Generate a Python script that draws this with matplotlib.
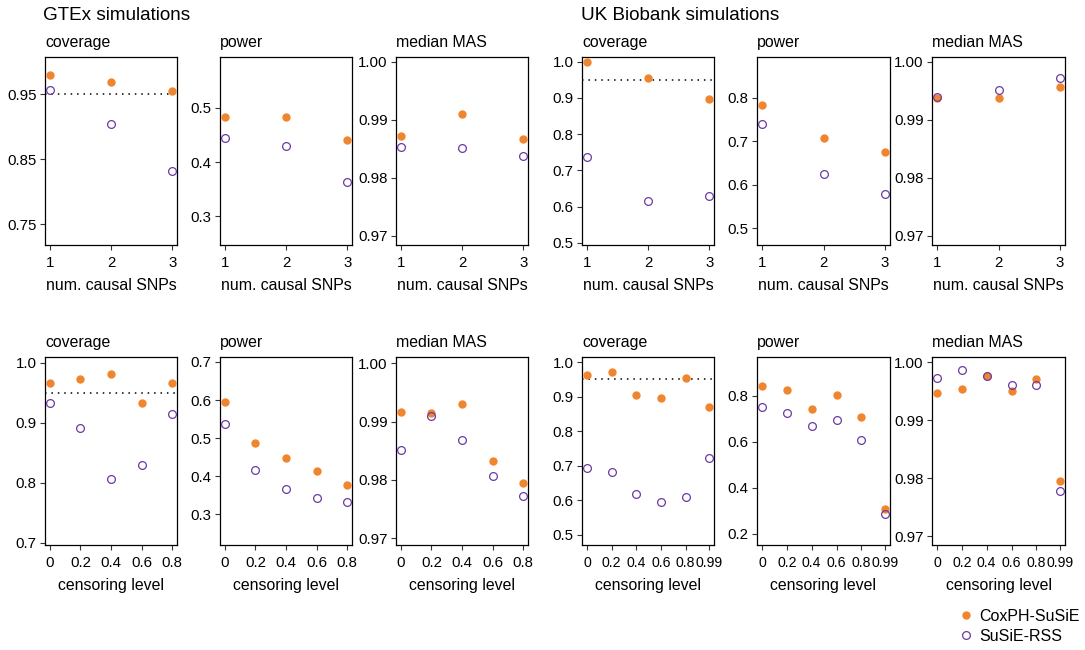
import numpy as np
import matplotlib.pyplot as plt
from matplotlib.lines import Line2D

plt.rcParams['font.family'] = ['Liberation Sans', 'DejaVu Sans']
plt.rcParams['font.size'] = 11

orange = '#F0852D'
purple = '#6A3BA5'

# x values
n_causal = [1, 2, 3]
cens_gtex = [0, 0.2, 0.4, 0.6, 0.8]
cens_ukb = [0, 0.2, 0.4, 0.6, 0.8, 0.99]

# GTEx, number of causal SNPs
gtex_cov_cox = [0.980, 0.969, 0.955]
gtex_cov_rss = [0.957, 0.904, 0.832]
gtex_pow_cox = [0.484, 0.484, 0.441]
gtex_pow_rss = [0.445, 0.430, 0.363]
gtex_mas_cox = [0.9872, 0.9909, 0.9867]
gtex_mas_rss = [0.9853, 0.9852, 0.9838]

# UK Biobank, number of causal SNPs
ukb_cov_cox = [0.999, 0.955, 0.896]
ukb_cov_rss = [0.736, 0.615, 0.630]
ukb_pow_cox = [0.783, 0.708, 0.675]
ukb_pow_rss = [0.741, 0.625, 0.580]
ukb_mas_cox = [0.9938, 0.9937, 0.9956]
ukb_mas_rss = [0.9939, 0.9951, 0.9972]

# GTEx, censoring level
gtex_cov_cens_cox = [0.966, 0.974, 0.982, 0.933, 0.967]
gtex_cov_cens_rss = [0.933, 0.891, 0.807, 0.830, 0.915]
gtex_pow_cens_cox = [0.596, 0.488, 0.447, 0.413, 0.376]
gtex_pow_cens_rss = [0.538, 0.417, 0.367, 0.342, 0.333]
gtex_mas_cens_cox = [0.9916, 0.9914, 0.9930, 0.9832, 0.9795]
gtex_mas_cens_rss = [0.9851, 0.9910, 0.9869, 0.9806, 0.9772]

# UK Biobank, censoring level
ukb_cov_cens_cox = [0.963, 0.972, 0.906, 0.897, 0.955, 0.870]
ukb_cov_cens_rss = [0.694, 0.681, 0.618, 0.595, 0.610, 0.723]
ukb_pow_cens_cox = [0.842, 0.826, 0.742, 0.801, 0.709, 0.307]
ukb_pow_cens_rss = [0.751, 0.725, 0.667, 0.692, 0.608, 0.288]
ukb_mas_cens_cox = [0.9947, 0.9953, 0.9976, 0.9950, 0.9971, 0.9795]
ukb_mas_cens_rss = [0.9972, 0.9987, 0.9976, 0.9960, 0.9961, 0.9778]

W, H = 1085, 650
fig = plt.figure(figsize=(W/100, H/100), dpi=100)

cols = [(45, 177), (220, 352), (396, 528), (582, 714), (757, 890), (932, 1065)]
rows = [(57, 245), (357, 545)]


def panel(r, c, x, cox, rss, title, xlabel, ylim, yticks, ylabels, xticks, xlabels, xlim,
          hline=False, xsize=10.8):
    x0, x1 = cols[c]
    y0, y1 = rows[r]
    ax = fig.add_axes([x0/W, 1 - y1/H, (x1 - x0)/W, (y1 - y0)/H])
    if hline:
        ax.axhline(0.95, color='black', lw=1.1, linestyle=(0, (1, 3.2)), zorder=1)
    ax.plot(x, cox, 'o', ms=5.0, color=orange, mec=orange, zorder=3)
    ax.plot(x, rss, 'o', ms=5.6, mfc='none', mec=purple, mew=0.9, zorder=4)
    ax.set_xlim(xlim)
    ax.set_ylim(ylim)
    ax.set_xticks(xticks)
    ax.set_xticklabels(xlabels)
    ax.set_yticks(yticks)
    ax.set_yticklabels(ylabels)
    ax.tick_params(length=3.4, width=0.8, color='#333333')
    ax.tick_params(axis='x', pad=4.6, labelsize=xsize)
    ax.tick_params(axis='y', pad=2.6, labelsize=10.8)
    for s in ax.spines.values():
        s.set_linewidth(0.9)
    ax.set_title(title, loc='left', fontsize=11.4, pad=7.5)
    ax.set_xlabel(xlabel, fontsize=11.4, labelpad=6)
    return ax


xl_n = (0.92, 3.08)
xl_g = (-0.032, 0.832)
xl_u = (-0.0396, 1.0296)
lab_g = ['0', '0.2', '0.4', '0.6', '0.8']
lab_u = ['0', '0.2', '0.4', '0.6', '0.8', '0.99']
ns = 'num. causal SNPs'
cl = 'censoring level'

panel(0, 0, n_causal, gtex_cov_cox, gtex_cov_rss, 'coverage', ns, (0.718, 1.007),
      [0.75, 0.85, 0.95], ['0.75', '0.85', '0.95'], n_causal, ['1', '2', '3'], xl_n, hline=True)
panel(0, 1, n_causal, gtex_pow_cox, gtex_pow_rss, 'power', ns, (0.247, 0.594),
      [0.3, 0.4, 0.5], ['0.3', '0.4', '0.5'], n_causal, ['1', '2', '3'], xl_n)
panel(0, 2, n_causal, gtex_mas_cox, gtex_mas_rss, 'median MAS', ns, (0.9684, 1.0008),
      [0.97, 0.98, 0.99, 1.0], ['0.97', '0.98', '0.99', '1.00'], n_causal, ['1', '2', '3'], xl_n)
panel(0, 3, n_causal, ukb_cov_cox, ukb_cov_rss, 'coverage', ns, (0.494, 1.013),
      [0.5, 0.6, 0.7, 0.8, 0.9, 1.0], ['0.5', '0.6', '0.7', '0.8', '0.9', '1.0'], n_causal, ['1', '2', '3'], xl_n, hline=True)
panel(0, 4, n_causal, ukb_pow_cox, ukb_pow_rss, 'power', ns, (0.462, 0.894),
      [0.5, 0.6, 0.7, 0.8], ['0.5', '0.6', '0.7', '0.8'], n_causal, ['1', '2', '3'], xl_n)
panel(0, 5, n_causal, ukb_mas_cox, ukb_mas_rss, 'median MAS', ns, (0.9684, 1.0008),
      [0.97, 0.98, 0.99, 1.0], ['0.97', '0.98', '0.99', '1.00'], n_causal, ['1', '2', '3'], xl_n)

panel(1, 0, cens_gtex, gtex_cov_cens_cox, gtex_cov_cens_rss, 'coverage', cl, (0.696, 1.010),
      [0.7, 0.8, 0.9, 1.0], ['0.7', '0.8', '0.9', '1.0'], cens_gtex, lab_g, xl_g, hline=True)
panel(1, 1, cens_gtex, gtex_pow_cens_cox, gtex_pow_cens_rss, 'power', cl, (0.219, 0.713),
      [0.3, 0.4, 0.5, 0.6, 0.7], ['0.3', '0.4', '0.5', '0.6', '0.7'], cens_gtex, lab_g, xl_g)
panel(1, 2, cens_gtex, gtex_mas_cens_cox, gtex_mas_cens_rss, 'median MAS', cl, (0.9688, 1.0011),
      [0.97, 0.98, 0.99, 1.0], ['0.97', '0.98', '0.99', '1.00'], cens_gtex, lab_g, xl_g)
panel(1, 3, cens_ukb, ukb_cov_cens_cox, ukb_cov_cens_rss, 'coverage', cl, (0.471, 1.0145),
      [0.5, 0.6, 0.7, 0.8, 0.9, 1.0], ['0.5', '0.6', '0.7', '0.8', '0.9', '1.0'], cens_ukb, lab_u, xl_u,
      hline=True, xsize=10.1)
panel(1, 4, cens_ukb, ukb_pow_cens_cox, ukb_pow_cens_rss, 'power', cl, (0.152, 0.967),
      [0.2, 0.4, 0.6, 0.8], ['0.2', '0.4', '0.6', '0.8'], cens_ukb, lab_u, xl_u, xsize=10.1)
panel(1, 5, cens_ukb, ukb_mas_cens_cox, ukb_mas_cens_rss, 'median MAS', cl, (0.9685, 1.0009),
      [0.97, 0.98, 0.99, 1.0], ['0.97', '0.98', '0.99', '1.00'], cens_ukb, lab_u, xl_u, xsize=10.1)

fig.text(43/W, 1 - 20/H, 'GTEx simulations', fontsize=13.6, ha='left', va='baseline')
fig.text(581/W, 1 - 20/H, 'UK Biobank simulations', fontsize=13.6, ha='left', va='baseline')

handles = [Line2D([], [], ls='none', marker='o', ms=5.0, color=orange),
           Line2D([], [], ls='none', marker='o', ms=5.6, mfc='none', mec=purple, mew=0.9)]
fig.legend(handles, ['CoxPH-SuSiE', 'SuSiE-RSS'], loc='upper left', bbox_to_anchor=(958/W, 1 - 609/H),
           frameon=False, handlelength=1.0, handletextpad=0.35, labelspacing=0.3, fontsize=11.5,
           borderpad=0, borderaxespad=0)

fig.savefig('out.png', dpi=100)
